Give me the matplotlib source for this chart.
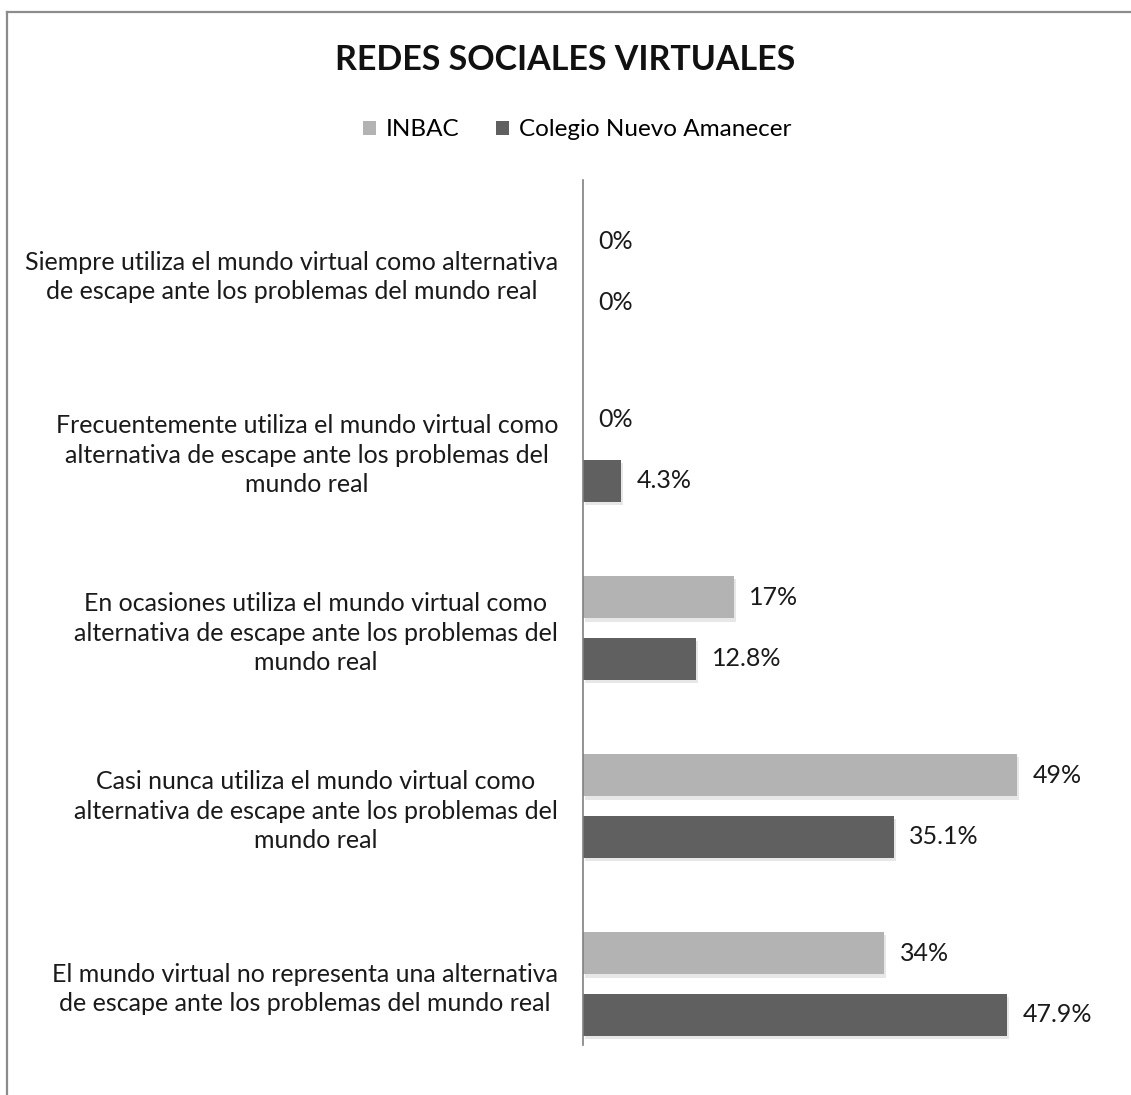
import matplotlib.pyplot as plt
import matplotlib.patheffects as pe
from matplotlib.lines import Line2D
import numpy as np

plt.rcParams['font.family'] = ['Lato', 'DejaVu Sans']

# Datos
categorias = [
    'Siempre utiliza el mundo virtual como alternativa\nde escape ante los problemas del mundo real',
    'Frecuentemente utiliza el mundo virtual como\nalternativa de escape ante los problemas del\nmundo real',
    'En ocasiones utiliza el mundo virtual como\nalternativa de escape ante los problemas del\nmundo real',
    'Casi nunca utiliza el mundo virtual como\nalternativa de escape ante los problemas del\nmundo real',
    'El mundo virtual no representa una alternativa\nde escape ante los problemas del mundo real',
]
inbac = [0, 0, 17, 49, 34]
inbac_txt = ['0%', '0%', '17%', '49%', '34%']
colegio = [0, 4.3, 12.8, 35.1, 47.9]
colegio_txt = ['0%', '4.3%', '12.8%', '35.1%', '47.9%']
series = ['INBAC', 'Colegio Nuevo Amanecer']
colores = ['#b3b3b3', '#606060']

W, H = 1131, 1095
fig = plt.figure(figsize=(W / 100, H / 100), dpi=100)
ax = fig.add_axes([583 / W, 1 - 1045 / H, 1 - 583 / W, (1045 - 180) / H])

y = np.arange(len(categorias))
alto = 0.236
desp = 0.174
sombra = [pe.SimplePatchShadow(offset=(1.5, -2.5), shadow_rgbFace='#b0b0b0', alpha=0.3), pe.Normal()]

b1 = ax.barh(y - desp, inbac, height=alto, color=colores[0], label=series[0])
b2 = ax.barh(y + desp, colegio, height=alto, color=colores[1], label=series[1])
for barras in (b1, b2):
    for r in barras:
        if r.get_width() > 0:
            r.set_path_effects(sombra)

for vals, txts, off in ((inbac, inbac_txt, -desp), (colegio, colegio_txt, desp)):
    for i, (v, t) in enumerate(zip(vals, txts)):
        ax.annotate(t, (v, i + off), xytext=(11, 0), textcoords='offset points',
                    va='center', ha='left', fontsize=18, color='#1a1a1a')

ax.set_xlim(0, (W - 583) / 8.86)
ax.set_ylim((1045 - 272) / 178, (180 - 272) / 178)
ax.set_yticks(y)
ax.set_yticklabels(categorias, fontsize=18, color='#1a1a1a')
for lab in ax.get_yticklabels():
    lab.set_multialignment('center')
    lab.set_linespacing(1.33)
ax.tick_params(axis='y', length=0, pad=18)
ax.set_xticks([])
for s in ('top', 'right', 'bottom'):
    ax.spines[s].set_visible(False)
ax.spines['left'].set_color('#808080')
ax.spines['left'].set_linewidth(1.2)

fig.text(565 / W, 1 - 60 / H, 'REDES SOCIALES VIRTUALES', ha='center', va='center',
         fontsize=24.5, fontweight='bold', color='#111111')
fig.legend(handles=[b1, b2], labels=series, loc='center', bbox_to_anchor=(577 / W, 1 - 130 / H),
           ncol=2, frameon=False, fontsize=17.5, handlelength=0.55, handleheight=0.55,
           columnspacing=1.5, handletextpad=0.4)

# marco del gráfico
fig.add_artist(Line2D([7 / W, 1], [1 - 12 / H, 1 - 12 / H], color='#8c8c8c', lw=1.6))
fig.add_artist(Line2D([7 / W, 7 / W], [0, 1 - 12 / H], color='#8c8c8c', lw=1.6))

fig.savefig('out.png', dpi=100)
